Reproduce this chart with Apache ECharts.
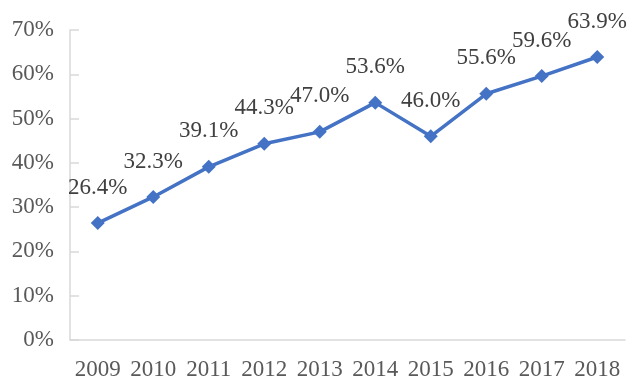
<!DOCTYPE html>
<html>
<head>
<meta charset="utf-8">
<script src="https://cdn.jsdelivr.net/npm/echarts@6/dist/echarts.min.js"></script>
<style>
  html, body { margin: 0; padding: 0; background: #fff; }
  #chart { width: 630px; height: 381px; }
</style>
</head>
<body>
<div id="chart"></div>
<script>
// Yearly share (%) plotted as a single line
const years = ['2009', '2010', '2011', '2012', '2013', '2014', '2015', '2016', '2017', '2018'];
const shares = [26.4, 32.3, 39.1, 44.3, 47.0, 53.6, 46.0, 55.6, 59.6, 63.9];
const yTicks = [0, 10, 20, 30, 40, 50, 60, 70];

const serif = '"Liberation Serif", "Times New Roman", serif';
const axisGray = '#d9d9d9';

const chart = echarts.init(document.getElementById('chart'));
chart.setOption({
  animation: false,
  grid: { left: 70, right: 5, top: 30, bottom: 40, containLabel: false },
  xAxis: {
    type: 'category',
    data: years,
    boundaryGap: true,
    axisLine: { lineStyle: { color: axisGray, width: 1.5 } },
    axisTick: { inside: true, length: 9, interval: 0, lineStyle: { color: axisGray, width: 1.5 } },
    axisLabel: { interval: 0, fontFamily: serif, fontSize: 23, color: '#595959', margin: 18 }
  },
  yAxis: {
    type: 'value',
    min: yTicks[0],
    max: yTicks[yTicks.length - 1],
    interval: 10,
    splitLine: { show: false },
    axisLine: { show: true, lineStyle: { color: axisGray, width: 1.5 } },
    axisTick: { show: true, inside: true, length: 9, lineStyle: { color: axisGray, width: 1.5 } },
    axisLabel: { fontFamily: serif, fontSize: 23, color: '#595959', margin: 16, formatter: '{value}%' }
  },
  series: [{
    type: 'line',
    data: shares,
    symbol: 'diamond',
    symbolSize: 14,
    lineStyle: { color: '#4472c4', width: 3.5 },
    itemStyle: { color: '#4472c4' },
    label: {
      show: true,
      position: 'top',
      distance: 17,
      fontFamily: serif,
      fontSize: 23,
      color: '#404040',
      formatter: p => p.value.toFixed(1) + '%'
    }
  }]
});
</script>
</body>
</html>
